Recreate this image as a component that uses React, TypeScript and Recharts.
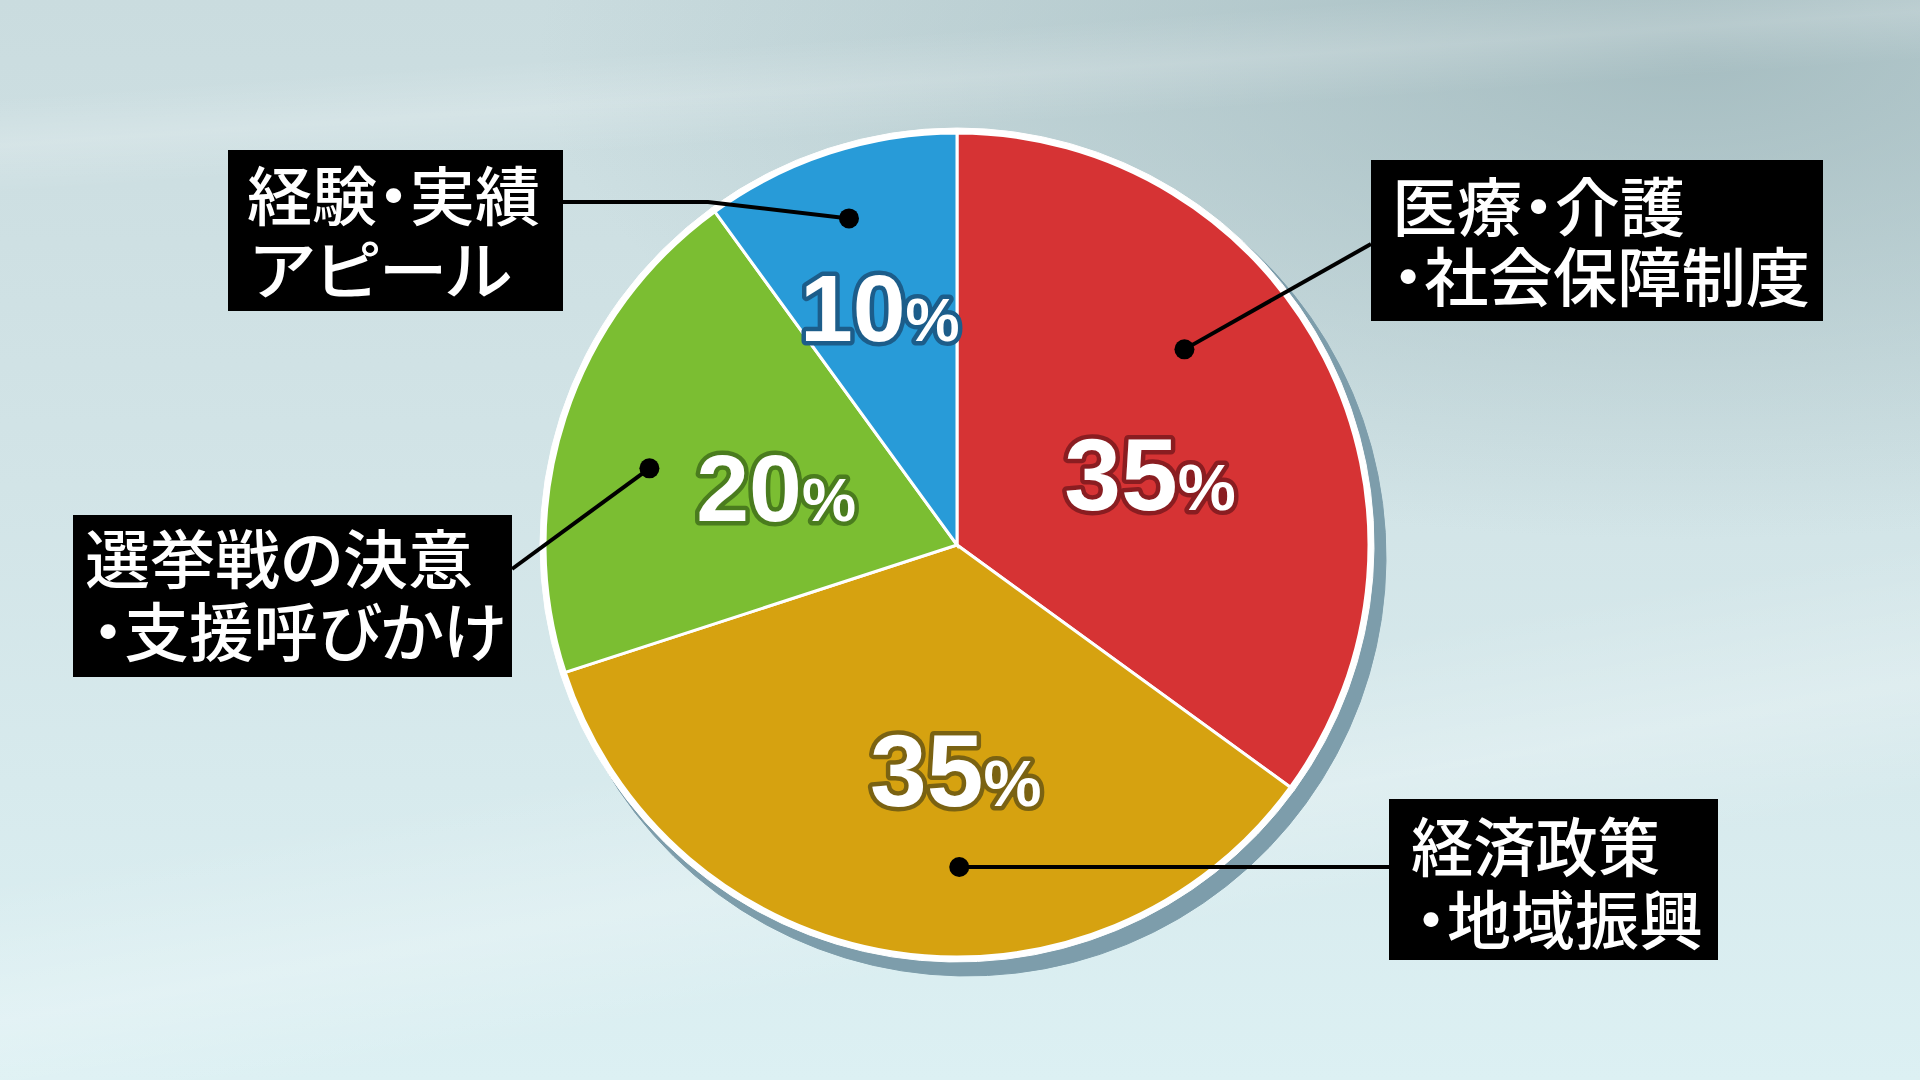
import React from 'react';
import { PieChart, Pie, Cell } from 'recharts';

// ---- data ----
const CATEGORIES = [
  '医療・介護・社会保障制度',
  '経済政策・地域振興',
  '選挙戦の決意・支援呼びかけ',
  '経験・実績アピール',
];
const VALUES = [35, 35, 20, 10];
const LABEL_LINES = [
  ['医療・介護', '・社会保障制度'],
  ['経済政策', '・地域振興'],
  ['選挙戦の決意', '・支援呼びかけ'],
  ['経験・実績', 'アピール'],
];

// ---- styles ----
const COLORS = ['#d63334', '#d6a210', '#7bbe32', '#289bd8'];
const OUTLINES = ['#8a1d21', '#7a6212', '#4a7c1e', '#1c5d8a'];

// ---- layout ----
const W = 1920;
const H = 1080;
const CX = 957;
const CY = 545;
const R = 412;
const PCT_POS = [
  { r: 206, shift: 6.5, fs: 102 },
  { r: 224, shift: -8.7, fs: 102 },
  { r: 190, shift: -0.2, fs: 95 },
  { r: 250, shift: 0, fs: 95 },
];
const DOT_POS = [
  { r: 300, shift: -13.7 },
  { r: 322, shift: -9.4 },
  { r: 317, shift: -4 },
  { r: 344, shift: -0.3 },
];
const BOXES = [
  { x: 1371, y: 160, w: 452, h: 161, path: [[1371, 244]], lines: [{ x: 1392, y: 231, len: 293 }, { x: 1392, y: 301, len: 418 }] },
  { x: 1389, y: 799, w: 329, h: 161, path: [[1389, 867]], lines: [{ x: 1411, y: 871, len: 249 }, { x: 1415, y: 944, len: 288 }] },
  { x: 73, y: 515, w: 439, h: 162, path: [[512, 569]], lines: [{ x: 85, y: 583, len: 388 }, { x: 92, y: 656, len: 414 }] },
  { x: 228, y: 150, w: 335, h: 161, path: [[708, 202], [563, 202]], lines: [{ x: 247, y: 220, len: 293 }, { x: 250, y: 294, len: 262 }] },
];

const rows = CATEGORIES.map((name, i) => ({ name, value: VALUES[i] }));

const polar = (cx: number, cy: number, r: number, thetaCW: number) => {
  const t = (thetaCW * Math.PI) / 180;
  return { x: cx + r * Math.sin(t), y: cy - r * Math.cos(t) };
};

const renderLabel = (props: any) => {
  const { cx, cy, midAngle, index, value } = props;
  const theta = 90 - midAngle;
  const lp = PCT_POS[index];
  const dp = DOT_POS[index];
  const box = BOXES[index];
  const p = polar(cx, cy, lp.r, theta + lp.shift);
  const d = polar(cx, cy, dp.r, theta + dp.shift);
  const pts = [[d.x, d.y], ...box.path].map((q) => q.join(',')).join(' ');
  return (
    <g key={`lab-${index}`}>
      <polyline points={pts} fill="none" stroke="#000" strokeWidth={4} />
      <circle cx={d.x} cy={d.y} r={10} fill="#000" />
      <rect x={box.x} y={box.y} width={box.w} height={box.h} fill="#000" />
      {LABEL_LINES[index].map((t, j) => (
        <text
          key={j}
          x={box.lines[j].x}
          y={box.lines[j].y}
          textLength={box.lines[j].len}
          lengthAdjust="spacingAndGlyphs"
          fill="#fff"
          fontSize={64}
          fontWeight={500}
          fontFamily="'Noto Sans CJK JP', 'Noto Sans', sans-serif"
          style={{ fontFeatureSettings: "'palt'" }}
        >
          {t}
        </text>
      ))}
      <text
        x={p.x}
        y={p.y + lp.fs * 0.36}
        textAnchor="middle"
        fontSize={lp.fs}
        fontWeight={700}
        fontFamily="'Liberation Sans', Arial, sans-serif"
        fill="#fff"
        stroke={OUTLINES[index]}
        strokeWidth={9}
        strokeLinejoin="round"
        style={{ paintOrder: 'stroke' }}
      >
        {value}
        <tspan fontSize={lp.fs * 0.64}>%</tspan>
      </text>
    </g>
  );
};

export default function App() {
  return (
    <div
      style={{
        position: 'absolute',
        left: 0,
        top: 0,
        width: W,
        height: H,
        overflow: 'hidden',
        background:
          'linear-gradient(170deg, rgba(255,255,255,0) 62%, rgba(255,255,255,0.22) 72%, rgba(255,255,255,0) 80%),' +
          'linear-gradient(176deg, rgba(255,255,255,0) 8%, rgba(255,255,255,0.18) 12%, rgba(255,255,255,0) 16%),' +
          'radial-gradient(ellipse 60% 45% at 88% 5%, rgba(160,184,188,0.85) 0%, rgba(160,184,188,0) 100%),' +
          'linear-gradient(180deg, #cadcdf 0%, #d2e4e7 45%, #dcf0f3 100%)',
      }}
    >
      <PieChart width={W} height={H} margin={{ top: 0, right: 0, bottom: 0, left: 0 }}>
        <Pie
          data={rows}
          dataKey="value"
          cx={CX + 10}
          cy={CY + 12}
          outerRadius={R + 7}
          startAngle={90}
          endAngle={-270}
          fill="#7d9dab"
          stroke="none"
          isAnimationActive={false}
        >
          {rows.map((_, i) => (
            <Cell key={i} fill="#7d9dab" stroke="#7d9dab" />
          ))}
        </Pie>
        <Pie
          data={rows}
          dataKey="value"
          cx={CX}
          cy={CY}
          outerRadius={R + 5}
          startAngle={90}
          endAngle={-270}
          stroke="#ffffff"
          isAnimationActive={false}
        >
          {rows.map((_, i) => (
            <Cell key={i} fill="#ffffff" stroke="#ffffff" />
          ))}
        </Pie>
        <Pie
          data={rows}
          dataKey="value"
          cx={CX}
          cy={CY}
          outerRadius={R}
          startAngle={90}
          endAngle={-270}
          stroke="#ffffff"
          strokeWidth={3}
          label={renderLabel}
          labelLine={false}
          isAnimationActive={false}
        >
          {rows.map((_, i) => (
            <Cell key={i} fill={COLORS[i]} />
          ))}
        </Pie>
      </PieChart>
    </div>
  );
}
